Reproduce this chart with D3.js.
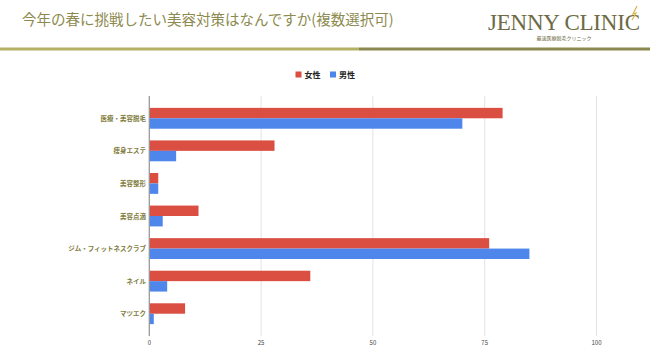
<!DOCTYPE html>
<html>
<head>
<meta charset="utf-8">
<script src="https://cdn.jsdelivr.net/npm/d3@7"></script>
<style>
  body { margin: 0; background: #fff; }
  svg { display: block; font-family: "Noto Sans CJK JP", "Noto Sans", sans-serif; }
</style>
</head>
<body>
<svg id="chart"></svg>
<script>
// data
const categories = ["医療・美容脱毛", "痩身エステ", "美容整形", "美容点滴", "ジム・フィットネスクラブ", "ネイル", "マツエク"];
const female = [79, 28, 2, 11, 76, 36, 8];
const male = [70, 6, 2, 3, 85, 4, 1];
const seriesNames = ["女性", "男性"];
const ticks = [0, 25, 50, 75, 100];

const width = 650, height = 353;
const svg = d3.select("#chart").attr("width", width).attr("height", height);

const colors = ["#db4e42", "#4f86ec"];
const olive = "#8c8a4e";

// header
svg.append("text")
  .attr("x", 22).attr("y", 25)
  .attr("font-size", 14.5)
  .attr("fill", olive)
  .text("今年の春に挑戦したい美容対策はなんですか(複数選択可)");

svg.append("rect").attr("x", 0).attr("y", 47.5).attr("width", 359).attr("height", 3).attr("fill", "#b4b064");
svg.append("rect").attr("x", 359).attr("y", 47.5).attr("width", width - 359).attr("height", 3).attr("fill", "#8a874f");

// logo
svg.append("text")
  .attr("x", 488).attr("y", 30)
  .attr("font-family", "'Liberation Serif', 'DejaVu Serif', serif")
  .attr("font-size", 23)
  .attr("textLength", 152)
  .attr("fill", "#6e6a45")
  .text("JENNY CLINIC");
svg.append("path")
  .attr("d", "M637,6 L633,14 L636,13 L632,20")
  .attr("fill", "none").attr("stroke", "#d9b64a").attr("stroke-width", 1.2);
svg.append("text")
  .attr("x", 564).attr("y", 40)
  .attr("text-anchor", "middle")
  .attr("font-size", 5)
  .attr("fill", "#6e6a45")
  .text("最速医療脱毛クリニック");

// legend
const legend = svg.append("g").attr("font-size", 8).attr("font-weight", "bold").attr("fill", "#222");
[[295.5, 0], [330, 1]].forEach(([x, i]) => {
  legend.append("rect").attr("x", x).attr("y", 71.5).attr("width", 6).attr("height", 6).attr("fill", colors[i]);
  legend.append("text").attr("x", x + 9).attr("y", 77.5).text(seriesNames[i]);
});

// scales
const x = d3.scaleLinear().domain([0, 100]).range([149.3, 596.5]);
const y = d3.scaleBand().domain(categories).range([102, 330]).paddingInner(0.36).paddingOuter(0.18);
const plotTop = 96, plotBottom = 336;

// grid
svg.append("g").selectAll("line")
  .data(ticks)
  .join("line")
  .attr("x1", d => x(d)).attr("x2", d => x(d))
  .attr("y1", plotTop).attr("y2", plotBottom)
  .attr("stroke", d => d === 0 ? "#9a9a9a" : "#e3e3e3")
  .attr("stroke-width", 1);

// bars
const rows = categories.map((c, i) => ({ c, vals: [female[i], male[i]] }));
const sub = d3.scaleBand().domain([0, 1]).range([0, y.bandwidth()]);

svg.append("g").selectAll("g")
  .data(rows)
  .join("g")
  .attr("transform", d => `translate(0,${y(d.c)})`)
  .selectAll("rect")
  .data(d => d.vals.map((v, i) => ({ v, i })))
  .join("rect")
  .attr("x", x(0))
  .attr("y", d => sub(d.i))
  .attr("width", d => x(d.v) - x(0))
  .attr("height", sub.bandwidth())
  .attr("fill", d => colors[d.i]);

// redraw the zero line over the bars
svg.append("line")
  .attr("x1", x(0)).attr("x2", x(0))
  .attr("y1", plotTop).attr("y2", plotBottom)
  .attr("stroke", "#9a9a9a");

// category labels
svg.append("g").selectAll("text")
  .data(categories)
  .join("text")
  .attr("x", 146)
  .attr("y", d => y(d) + y.bandwidth() / 2 + 2.5)
  .attr("text-anchor", "end")
  .attr("font-size", 6.5)
  .attr("font-weight", "bold")
  .attr("fill", "#7f7d3e")
  .text(d => d);

// tick labels
svg.append("g").selectAll("text")
  .data(ticks)
  .join("text")
  .attr("x", d => x(d))
  .attr("y", 345)
  .attr("text-anchor", "middle")
  .attr("font-size", 6)
  .attr("fill", "#444")
  .text(d => d);
</script>
</body>
</html>
